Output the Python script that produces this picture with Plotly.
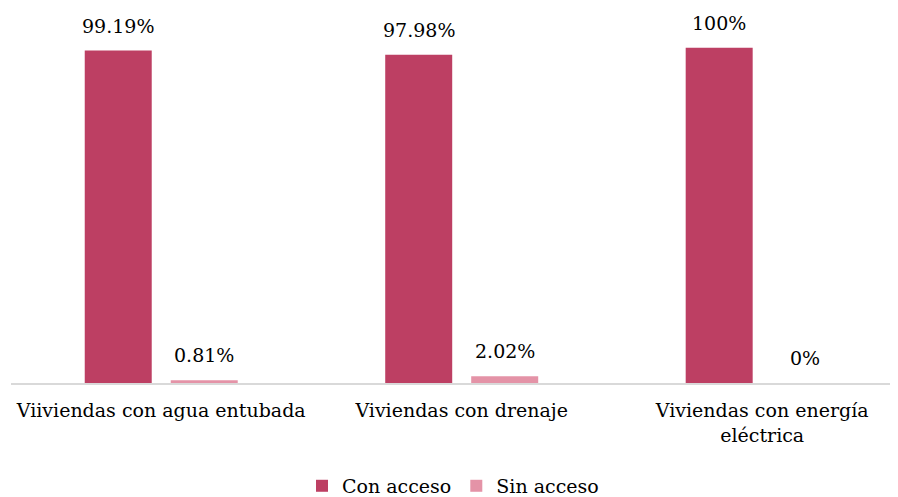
import plotly.graph_objects as go

categories = ["Viiviendas con agua entubada", "Viviendas con drenaje", "Viviendas con energía<br>eléctrica"]
con_acceso = [99.19, 97.98, 100]
sin_acceso = [0.81, 2.02, 0]
con_labels = ["99.19%", "97.98%", "100%"]
sin_labels = ["0.81%", "2.02%", "0%"]

COLOR_CON = "#BD3F63"
COLOR_SIN = "#E493A7"
FONT = "DejaVu Serif"

bargap = 0.4276
bargroupgap = 0.221

fig = go.Figure()
fig.add_trace(go.Bar(name="Con acceso", x=categories, y=con_acceso, marker_color=COLOR_CON,
                     marker_line_width=0, hoverinfo="skip"))
fig.add_trace(go.Bar(name="Sin acceso", x=categories, y=sin_acceso, marker_color=COLOR_SIN,
                     marker_line_width=0, hoverinfo="skip"))

slot = (1 - bargap) / 2
offsets = [-slot / 2, slot / 2]
for series_i, (vals, labs) in enumerate([(con_acceso, con_labels), (sin_acceso, sin_labels)]):
    for i, (v, lab) in enumerate(zip(vals, labs)):
        fig.add_annotation(x=i + offsets[series_i], y=v, xref="x", yref="y", text=lab,
                           showarrow=False, yanchor="bottom", yshift=12,
                           font=dict(family=FONT, size=19, color="#000000"))

fig.update_layout(
    width=890, height=489,
    margin=dict(l=3, r=0, t=2, b=114, autoexpand=False),
    barmode="group", bargap=bargap, bargroupgap=bargroupgap,
    plot_bgcolor="white", paper_bgcolor="white",
    font=dict(family=FONT, size=19, color="#000000"),
    showlegend=True,
    legend=dict(orientation="h", x=0.5, xref="container", xanchor="center",
                y=-0.225, yref="paper", yanchor="top",
                font=dict(family=FONT, size=19, color="#000000"),
                itemwidth=30, tracegroupgap=0),
    xaxis=dict(showline=True, linecolor="#D9D9D9", linewidth=2, showgrid=False,
               automargin=False,
               range=[-0.5, 2.452], tickfont=dict(family=FONT, size=19, color="#000000"),
               ticks="", ticklabelstandoff=9),
    yaxis=dict(range=[0, 111.3], showticklabels=False, showgrid=False, zeroline=False,
               showline=False, automargin=False),
)

fig.write_html("out.html")
